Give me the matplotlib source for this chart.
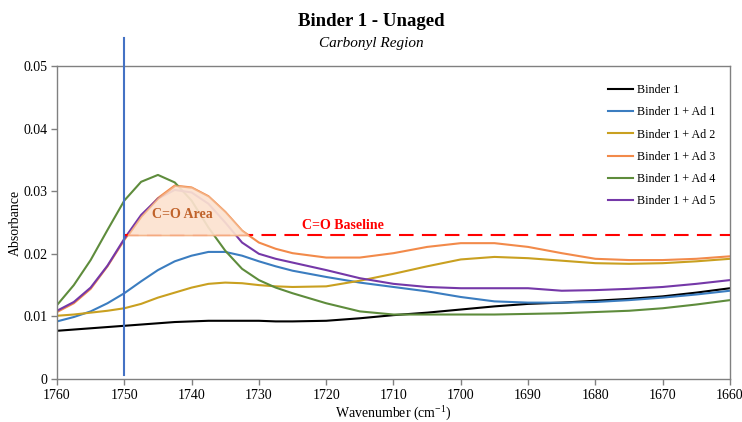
import matplotlib
matplotlib.use('Agg')
import matplotlib.pyplot as plt
import numpy as np

plt.rcParams['font.family'] = ['Liberation Serif', 'DejaVu Serif']

# Wellenzahlen (cm^-1) und Absorbanz
wn = np.array([1760, 1757.5, 1755, 1752.5, 1750, 1747.5, 1745, 1742.5, 1740, 1737.5,
               1735, 1732.5, 1730, 1727.5, 1725, 1720, 1715, 1710, 1705, 1700,
               1695, 1690, 1685, 1680, 1675, 1670, 1665, 1660])

binder1 = [.0077, .0079, .0081, .0083, .0085, .0087, .0089, .0091, .0092, .0093,
           .0093, .0093, .0093, .0092, .0092, .0093, .0097, .0102, .0106, .0111,
           .0116, .0120, .0122, .0125, .0128, .0132, .0138, .0145]
ad1 = [.0092, .0099, .0108, .0121, .0137, .0156, .0174, .0188, .0197, .0203,
       .0203, .0197, .0188, .0180, .0173, .0163, .0154, .0147, .0140, .0131,
       .0124, .0122, .0122, .0123, .0126, .0130, .0135, .0141]
ad2 = [.0101, .0103, .0106, .0109, .0113, .0120, .0130, .0138, .0146, .0152,
       .0154, .0153, .0150, .0148, .0147, .0148, .0157, .0168, .0180, .0191,
       .0195, .0193, .0189, .0185, .0184, .0185, .0188, .0192]
ad3 = [.0107, .0121, .0144, .0180, .0222, .0260, .0289, .0309, .0306, .0292,
       .0267, .0237, .0218, .0208, .0201, .0194, .0194, .0201, .0211, .0217,
       .0217, .0211, .0201, .0192, .0190, .0190, .0192, .0196]
ad4 = [.0118, .0150, .0190, .0238, .0285, .0315, .0326, .0314, .0285, .0242,
       .0205, .0176, .0158, .0146, .0137, .0121, .0108, .0103, .0103, .0103,
       .0103, .0104, .0105, .0107, .0109, .0113, .0119, .0126]
ad5 = [.0109, .0123, .0146, .0181, .0224, .0262, .0288, .0302, .0298, .0280,
       .0250, .0218, .0200, .0192, .0186, .0174, .0161, .0152, .0147, .0145,
       .0145, .0145, .0141, .0142, .0144, .0147, .0152, .0158]

labels = ['Binder 1', 'Binder 1 + Ad 1', 'Binder 1 + Ad 2',
          'Binder 1 + Ad 3', 'Binder 1 + Ad 4', 'Binder 1 + Ad 5']
colors = ['#000000', '#3B7DC0', '#C9A020', '#F28A4A', '#5E8C3C', '#7538A8']
series = [binder1, ad1, ad2, ad3, ad4, ad5]

baseline = 0.023
wn_start = 1750

fig = plt.figure(figsize=(7.42, 4.22), dpi=100)
ax = fig.add_axes([0.0768, 0.1019, 0.907, 0.7417])

for y, c, l in zip(series, colors, labels):
    ax.plot(wn, y, color=c, lw=1.5, label=l, zorder=2)

ax.plot([wn_start, 1660], [baseline, baseline], color='red', lw=1.5,
        dashes=(7, 4), zorder=3)

ad3_arr = np.array(ad3)
ax.fill_between(wn, ad3_arr, baseline, where=(wn <= wn_start) & (ad3_arr >= baseline),
                interpolate=True, facecolor='#FCE2D0', edgecolor='#F4B183',
                lw=1.2, alpha=0.92, zorder=4)

ax.plot([wn_start, wn_start], [0.0006, 0.0545], color='#4472C4', lw=1.5,
        clip_on=False, zorder=5)

ax.text(1741.3, 0.0262, 'C=O Area', color='#C0622A', fontsize=10,
        fontweight='bold', ha='center', va='center', zorder=6)
ax.text(1717.5, 0.0246, 'C=O Baseline', color='red', fontsize=10,
        fontweight='bold', ha='center', va='center', zorder=6)

ax.set_xlim(1760, 1660)
ax.set_ylim(0, 0.05)
ax.set_xticks(np.arange(1760, 1659, -10))
ax.set_yticks([0, 0.01, 0.02, 0.03, 0.04, 0.05])
ax.set_yticklabels(['0', '0.01', '0.02', '0.03', '0.04', '0.05'])
ax.tick_params(direction='out', length=4, width=1, color='#808080',
               labelsize=10, pad=3)
for s in ax.spines.values():
    s.set_color('#808080')
    s.set_linewidth(1)

ax.set_xlabel(r'Wavenumber (cm$^{\mathregular{-1}}$)', fontsize=10, labelpad=1)
ax.set_ylabel('Absorbance', fontsize=10, labelpad=1)

leg = ax.legend(loc='upper right', frameon=False, fontsize=8.7,
                bbox_to_anchor=(0.994, 0.977), handlelength=2.1,
                handletextpad=0.3, labelspacing=0.85)

fig.text(0.5, 0.948, 'Binder 1 - Unaged', ha='center', va='center',
         fontsize=13.5, fontweight='bold')
fig.text(0.5, 0.898, 'Carbonyl Region', ha='center', va='center',
         fontsize=11, style='italic')

fig.savefig('out.png', dpi=100)
